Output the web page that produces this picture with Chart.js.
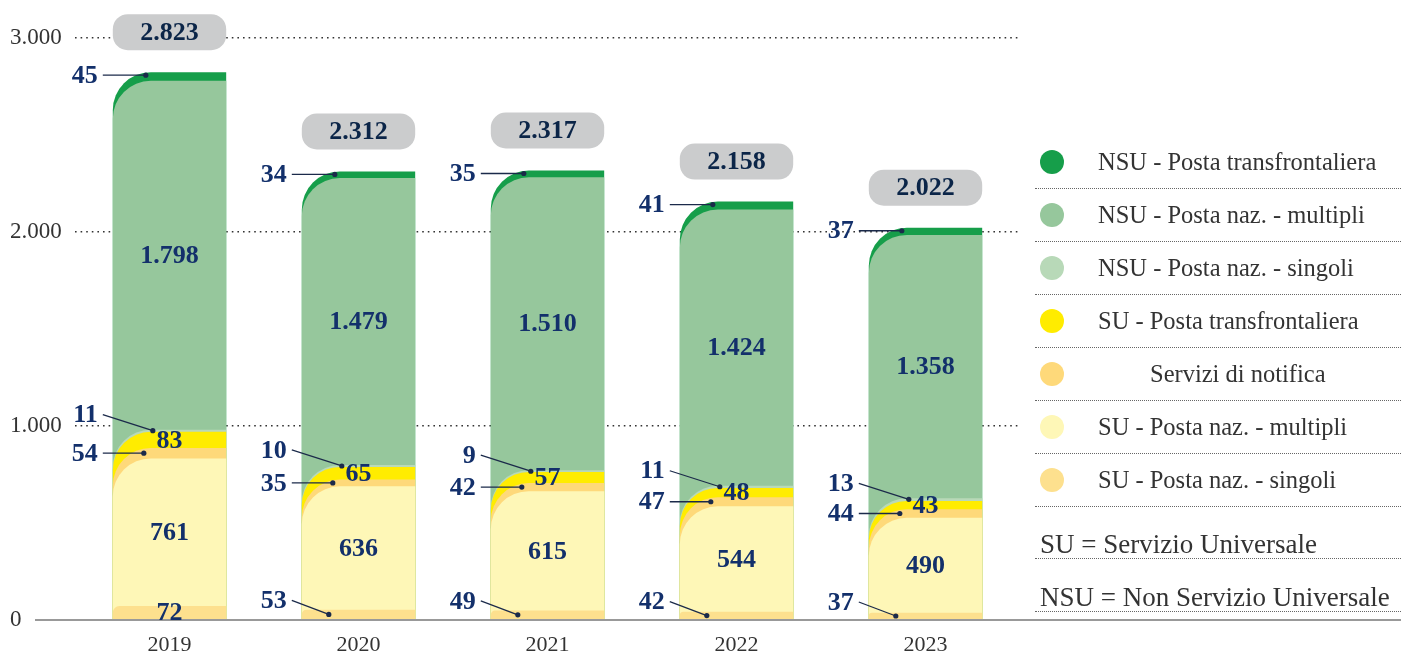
<!DOCTYPE html>
<html>
<head>
<meta charset="utf-8">
<script src="https://cdn.jsdelivr.net/npm/chart.js@4.4.1/dist/chart.umd.min.js"></script>
<style>
body{margin:0;background:#fff;font-family:"Liberation Serif",serif;color:#333;}
#wrap{position:relative;width:1401px;height:652px;overflow:hidden;}
#legend{position:absolute;left:1035px;top:0;width:366px;height:652px;}
.row{position:absolute;left:0;width:366px;box-sizing:border-box;border-bottom:1.5px dotted #666;display:flex;align-items:center;font-size:24.5px;white-space:nowrap;}
.dot{width:24px;height:24px;border-radius:50%;margin-left:5px;margin-right:34px;flex:none;}
.note{padding-left:5px;font-size:27px;align-items:flex-end;line-height:1.05;}
</style>
</head>
<body>
<div id="wrap">
  <canvas id="chart" width="1401" height="652"></canvas>
  <div id="legend"></div>
</div>
<script>
const years = ['2019','2020','2021','2022','2023'];
const suSingoli   = [72, 53, 49, 42, 37];
const suMultipli  = [761, 636, 615, 544, 490];
const notifica    = [54, 35, 42, 47, 44];
const suTransfr   = [83, 65, 57, 48, 43];
const nsuSingoli  = [11, 10, 9, 11, 13];
const nsuMultipli = [1798, 1479, 1510, 1424, 1358];
const nsuTransfr  = [45, 34, 35, 41, 37];
const totals      = [2823, 2312, 2317, 2158, 2022];

// bottom to top
const series = [
  {name:'SU - Posta naz. - singoli',   values:suSingoli,   color:'#fde08e', label:'auto'},
  {name:'SU - Posta naz. - multipli',  values:suMultipli,  color:'#fef7b7', label:'inside'},
  {name:'Servizi di notifica',         values:notifica,    color:'#fed97a', label:'side'},
  {name:'SU - Posta transfrontaliera', values:suTransfr,   color:'#ffec00', label:'inside'},
  {name:'NSU - Posta naz. - singoli',  values:nsuSingoli,  color:'#b8d9b8', label:'above'},
  {name:'NSU - Posta naz. - multipli', values:nsuMultipli, color:'#96c79c', label:'inside'},
  {name:'NSU - Posta transfrontaliera',values:nsuTransfr,  color:'#169e4a', label:'top'}
];

const navy = '#13306b';
const fmt = v => String(v).replace(/\B(?=(\d{3})+(?!\d))/g, '.');

// each bar runs from 0 to its cumulative top, lower ones drawn over upper ones
let running = years.map(() => 0);
const datasets = series.map(s => {
  running = running.map((r, i) => r + s.values[i]);
  return {
    label: s.name,
    data: running.slice(),
    backgroundColor: s.color,
    borderRadius: {topLeft: 38, topRight: 0, bottomLeft: 0, bottomRight: 0},
    borderSkipped: 'start',
    inflateAmount: 0,
    barPercentage: 0.6,
    categoryPercentage: 1
  };
});

const labelPlugin = {
  id: 'labels',
  afterDatasetsDraw(chart) {
    const ctx = chart.ctx;
    const metas = series.map((s, k) => chart.getDatasetMeta(k));
    const y0 = chart.scales.y.getPixelForValue(0);
    ctx.save();
    // base line
    ctx.strokeStyle = '#999';
    ctx.lineWidth = 2;
    ctx.beginPath(); ctx.moveTo(35, y0); ctx.lineTo(1401, y0); ctx.stroke();

    ctx.font = 'bold 26px "Liberation Serif"';
    ctx.textBaseline = 'middle';
    ctx.fillStyle = navy;
    ctx.strokeStyle = '#1b2a4a';
    ctx.lineWidth = 1.3;
    series.forEach((s, k) => {
      metas[k].data.forEach((el, i) => {
        const top = el.y;
        const bottom = k ? metas[k - 1].data[i].y : el.base;
        const mid = (top + bottom) / 2;
        const left = el.x - el.width / 2;
        const txt = fmt(s.values[i]);
        let mode = s.label;
        if (mode === 'auto') mode = bottom - top >= 13 ? 'inside' : 'below';
        if (mode === 'inside') {
          ctx.textAlign = 'center';
          ctx.fillText(txt, el.x, mid + 1);
          return;
        }
        let ly, dx, dy;
        if (mode === 'side')  { ly = mid;      dx = left + 31; dy = mid; }
        if (mode === 'top')   { ly = top + 3;  dx = left + 33; dy = top + 3; }
        if (mode === 'above') { ly = top - 15; dx = left + 40; dy = top + 1; }
        if (mode === 'below') { ly = mid - 14; dx = left + 27; dy = mid; }
        ctx.textAlign = 'right';
        ctx.fillText(txt, left - 15, ly + 1);
        ctx.beginPath(); ctx.moveTo(left - 10, ly); ctx.lineTo(dx, dy); ctx.stroke();
        ctx.beginPath(); ctx.arc(dx, dy, 2.6, 0, Math.PI * 2); ctx.fillStyle = '#1b2a4a'; ctx.fill();
        ctx.fillStyle = navy;
      });
    });

    // totals
    const lastMeta = metas[metas.length - 1];
    lastMeta.data.forEach((el, i) => {
      const w = el.width, h = 36, cy = el.y - 40, x = el.x - w / 2;
      ctx.fillStyle = '#cbcccd';
      ctx.beginPath(); ctx.roundRect(x, cy - h / 2, w, h, 15); ctx.fill();
      ctx.fillStyle = '#0b2548';
      ctx.textAlign = 'center';
      ctx.fillText(fmt(totals[i]), el.x, cy + 1);
    });
    ctx.restore();
  }
};

Chart.defaults.font.family = '"Liberation Serif", serif';
Chart.defaults.color = '#333';

new Chart(document.getElementById('chart'), {
  type: 'bar',
  data: {labels: years, datasets: datasets},
  options: {
    responsive: false,
    animation: false,
    layout: {padding: {top: 38, right: 381, left: 10, bottom: 0}},
    plugins: {legend: {display: false}, tooltip: {enabled: false}},
    scales: {
      x: {
        stacked: true,
        grid: {display: false, drawTicks: false},
        border: {display: false},
        ticks: {font: {size: 22}, color: '#333', padding: 12},
        afterFit: s => { s.height = 32; }
      },
      y: {
        stacked: false,
        min: 0, max: 3000,
        grid: {drawTicks: false, lineWidth: 1.6, color: c => c.tick && c.tick.value === 0 ? 'rgba(0,0,0,0)' : '#333'},
        border: {display: false, dash: [1.6, 4]},
        ticks: {stepSize: 1000, crossAlign: 'far', font: {size: 23}, color: '#333', callback: v => fmt(v)},
        afterFit: s => { s.width = 65; }
      }
    }
  },
  plugins: [labelPlugin]
});

// legend, top to bottom
const legend = document.getElementById('legend');
series.slice().reverse().forEach((s, i) => {
  const row = document.createElement('div');
  row.className = 'row';
  row.style.top = (136 + 53 * i) + 'px';
  row.style.height = '53px';
  const indent = s.name === 'Servizi di notifica' ? 'padding-left:52px;' : '';
  row.innerHTML = `<span class="dot" style="background:${s.color}"></span><span style="${indent}">${s.name}</span>`;
  legend.appendChild(row);
});
[['SU = Servizio Universale', 520], ['NSU = Non Servizio Universale', 573]].forEach(([t, top]) => {
  const row = document.createElement('div');
  row.className = 'row note';
  row.style.top = top + 'px';
  row.style.height = '39px';
  row.textContent = t;
  legend.appendChild(row);
});
</script>
</body>
</html>
